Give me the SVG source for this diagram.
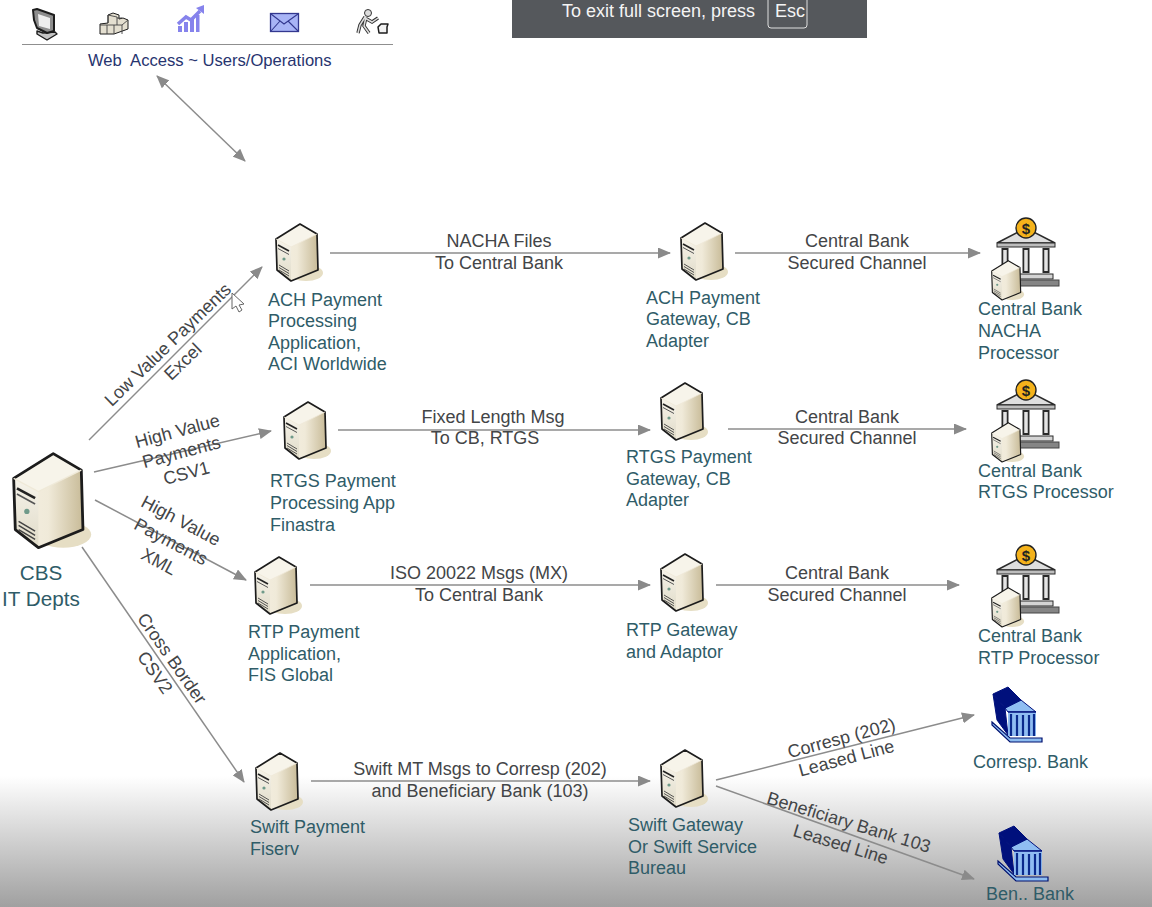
<svg xmlns="http://www.w3.org/2000/svg" width="1152" height="907" viewBox="0 0 1152 907">
<style>
text{font-family:"Liberation Sans",Arial,sans-serif;font-size:18px}
.n{fill:#2f5c68}
.e{fill:#434547;text-anchor:middle}
.c{stroke:#8c8c8c;stroke-width:1.500;fill:none;marker-end:url(#ah)}
.k{stroke:#1c1c1c;stroke-linejoin:round}
</style>
<defs>
<marker id="ah" viewBox="0 0 13 11" refX="12" refY="5.500" markerWidth="13" markerHeight="11" markerUnits="userSpaceOnUse" orient="auto-start-reverse"><path d="M0 0L13 5.500L0 11Z" fill="#8a8a8a"/></marker>
<linearGradient id="bg" x1="0" y1="0" x2="0" y2="1"><stop offset="0" stop-color="#fff"/><stop offset="1" stop-color="#a0a0a0"/></linearGradient>
<linearGradient id="face" x1="0" y1="0" x2="1" y2="0"><stop offset="0" stop-color="#f4efe2"/><stop offset=".5" stop-color="#f0ead9"/><stop offset="1" stop-color="#c8bb98"/></linearGradient>
<linearGradient id="side" x1="0" y1="0" x2="0" y2="1"><stop offset="0" stop-color="#f6f3ea"/><stop offset="1" stop-color="#e0dbc8"/></linearGradient>
<g id="srv">
<ellipse cx="31" cy="50" rx="17" ry="8" fill="#e6dec4"/>
<path d="M25 1L42 11L43 47L16 58L2 47L1 16Z" fill="url(#face)"/>
<path d="M1 16L16 24L16 58L2 47Z" fill="url(#side)"/>
<path d="M25 1L42 11L16 24L1 16Z" fill="#f7f4ea"/>
<path class="k" d="M25 1L42 11L43 47L16 58L2 47L1 16Z" fill="none" stroke-width="1.700"/>
<path d="M1 16L16 24L42 11" fill="none" stroke="#efe9d8" stroke-width=".8"/>
<path d="M3 22L14 28" stroke="#222" stroke-width="1.600" fill="none"/>
<path d="M3 25.500L14 31.500" stroke="#555" stroke-width="1" fill="none"/>
<circle cx="9" cy="36" r="1.600" fill="#6f9a8a"/>
<path d="M4 42L14 48M4 44.500L14 50.500M4 47L14 53" stroke="#444" stroke-width=".9" fill="none"/>
</g>
<g id="cb">
<path d="M1026 228L997 243H1055Z" fill="#dedede" stroke="#2a2a2a" stroke-width="1.500"/>
<circle cx="1026" cy="228" r="10" fill="#f4b21b" stroke="#222" stroke-width="1.400"/>
<text x="1026" y="234" style="font-size:15px;font-weight:bold;text-anchor:middle" fill="#222">$</text>
<rect x="997" y="243" width="58" height="4" fill="#bdbdbd" stroke="#2a2a2a"/>
<path d="M1005 248V273M1026 248V273M1046 248V273" stroke="#2a2a2a" stroke-width="7"/>
<path d="M1005 250V271M1026 250V271M1046 250V271" stroke="#e4e4e4" stroke-width="3.500"/>
<rect x="1002" y="274" width="51" height="5" fill="#d4d4d4" stroke="#2a2a2a"/>
<rect x="1000" y="280" width="59" height="6" fill="#858585" stroke="#444"/>
<use href="#srv" transform="translate(991 260) scale(.69)"/>
</g>
<g id="bb">
<path d="M992 722L1010 738H1042V742H1010L992 725Z" fill="#8cbcf0" stroke="#00106e" stroke-width="1.200"/>
<path d="M993 694L1005 708L1008 735L997 720Z" fill="#00107c" stroke="#00107c"/>
<path d="M1005 708L1021 700L1036 712H1008Z" fill="#8fbdf2" stroke="#00107c"/>
<path d="M993 694L1008 687L1021 700L1005 708Z" fill="#00107c" stroke="#00107c"/>
<path d="M1008 712H1036V736H1008Z" fill="#8fbdf2"/>
<path d="M1008 712H1036" stroke="#00107c" stroke-width="1.500"/>
<path d="M1011 714V736M1017 715V736M1023 715V736M1029 715V736M1034 714V736" stroke="#0a2a8c" stroke-width="2.200"/>
</g>
</defs>
<rect id="bgr" width="1152" height="907" fill="#fff"/>
<rect y="776" width="1152" height="131" fill="url(#bg)"/>
<g id="fullscreen-bar">
<rect x="512" y="-2" width="355" height="40" fill="#55585c"/>
<rect x="768" y="-6" width="39" height="34" rx="3" fill="none" stroke="#dfdfdf"/>
<text x="562" y="16.500" fill="#f4f4f4">To exit full screen, press</text>
<text x="775" y="16.500" fill="#f4f4f4">Esc</text>
</g>
<g id="web-access">
<path class="k" d="M37 31L43 33L55 32L57 34L47 40L37 34Z" fill="#c4c4c4" stroke-width="1.400"/>
<path class="k" d="M33 10L37 9L54 15L54 31L47 33L37 28L34 20Z" fill="#8e8e8e" stroke-width="2"/>
<path d="M38 14L50 18V29L39 26Z" fill="#eeeeee"/>
<path class="k" d="M100 24L108 23V15L113 13L119 15V19L123 18L128 20V29L114 34L100 34Z" fill="#e4dfd0" stroke="#444" stroke-width="1"/>
<path d="M100 25H122V34M107 25V34M114 25V34M108 23V15M108 15L117 17V25M122 25L128 20M117 18L122 18" fill="none" stroke="#444" stroke-width=".9"/>
<path d="M178 32V26H182V32ZM184 32V22H188V32ZM190 32V19H194V32ZM196 32V15H199.500V32Z" fill="#8683ec"/>
<path d="M178 24L186 17L191 20L200 11" fill="none" stroke="#8683ec" stroke-width="3.500"/>
<path d="M196 8L204 5L204 14Z" fill="#8683ec"/>
<rect x="270.500" y="13.500" width="28" height="18" fill="#a8b4f6" stroke="#33388f" stroke-width="1.300"/>
<path d="M271 14L284 24L298 14M271 31L280 21M298 31L288 21" fill="none" stroke="#33388f" stroke-width="1.100"/>
<circle cx="368" cy="13" r="3.500" fill="#ddd" stroke="#333"/>
<path d="M365 17L360 25L358 33M366 17L364 26L369 33M365 18L372 22L378 18" fill="none" stroke="#333" stroke-width="3.400"/>
<path d="M365 17L360 25L358 33M366 17L364 26L369 33M365 18L372 22L378 18" fill="none" stroke="#ddd" stroke-width="1.500"/>
<path class="k" d="M378 27L381 24H388L387 27V33H379Z" fill="#f2f2f2" stroke-width="1.500"/>
<line x1="22" y1="44.500" x2="393" y2="44.500" stroke="#8f8f8f" stroke-width="1.200"/>
<text x="88" y="66" style="font-size:16.600px;white-space:pre" fill="#27346f">Web  Access ~ Users/Operations</text>
</g>
<g id="connectors">
<path class="c" d="M157 76L245 161" marker-start="url(#ah)"/>
<path class="c" d="M89 440L262 267"/>
<path class="c" d="M94 472L271 431"/>
<path class="c" d="M95 500L246 580"/>
<path class="c" d="M82 547L244 782"/>
<path class="c" d="M330 253H670"/>
<path class="c" d="M735 253H980"/>
<path class="c" d="M338 430H650"/>
<path class="c" d="M728 429H966"/>
<path class="c" d="M310 585H650"/>
<path class="c" d="M716 585H959"/>
<path class="c" d="M311 781H650"/>
<path class="c" d="M716 780L974 715"/>
<path class="c" d="M716 786L974 879"/>
</g>
<g id="edge-labels">
<text class="e" x="499" y="247">NACHA Files</text><text class="e" x="499" y="269">To Central Bank</text>
<text class="e" x="857" y="247">Central Bank</text><text class="e" x="857" y="269">Secured Channel</text>
<text class="e" x="493" y="423">Fixed Length Msg</text><text class="e" x="485" y="444">To CB, RTGS</text>
<text class="e" x="847" y="423">Central Bank</text><text class="e" x="847" y="444">Secured Channel</text>
<text class="e" x="479" y="579">ISO 20022 Msgs (MX)</text><text class="e" x="479" y="601">To Central Bank</text>
<text class="e" x="837" y="579">Central Bank</text><text class="e" x="837" y="601">Secured Channel</text>
<text class="e" x="480" y="775">Swift MT Msgs to Corresp (202)</text><text class="e" x="480" y="797">and Beneficiary Bank (103)</text>
<text class="e" transform="translate(172 349) rotate(-44)">Low Value Payments</text>
<text class="e" transform="translate(187 366) rotate(-44)">Excel</text>
<text class="e" transform="translate(179 437) rotate(-15)">High Value</text>
<text class="e" transform="translate(183 458) rotate(-15)">Payments</text>
<text class="e" transform="translate(188 479) rotate(-15)">CSV1</text>
<text class="e" transform="translate(178 526) rotate(28)">High Value</text>
<text class="e" transform="translate(168 547) rotate(28)">Payments</text>
<text class="e" transform="translate(156 567) rotate(28)">XML</text>
<text class="e" transform="translate(167 662) rotate(55)">Cross Border</text>
<text class="e" transform="translate(150 676) rotate(55)">CSV2</text>
<text class="e" transform="translate(843 744) rotate(-15)">Corresp (202)</text>
<text class="e" transform="translate(848 764) rotate(-15)">Leased Line</text>
<text class="e" transform="translate(847 828) rotate(17)">Beneficiary Bank 103</text>
<text class="e" transform="translate(839 850) rotate(17)">Leased Line</text>
</g>
<g id="cbs"><use href="#srv" transform="translate(12 452) scale(1.650)"/><text class="n" style="font-size:20.700px;text-anchor:middle" x="41" y="580">CBS</text><text class="n" style="font-size:20.700px;text-anchor:middle" x="41" y="606">IT Depts</text></g>
<g id="ach-app"><use href="#srv" x="275" y="223"/><text class="n" x="268" y="306">ACH Payment</text><text class="n" x="268" y="327">Processing</text><text class="n" x="268" y="349">Application,</text><text class="n" x="268" y="370">ACI Worldwide</text></g>
<g id="ach-gw"><use href="#srv" x="680" y="222"/><text class="n" x="646" y="304">ACH Payment</text><text class="n" x="646" y="325">Gateway, CB</text><text class="n" x="646" y="347">Adapter</text></g>
<g id="cb-nacha"><use href="#cb"/><text class="n" x="978" y="315">Central Bank</text><text class="n" x="978" y="337">NACHA</text><text class="n" x="978" y="359">Processor</text></g>
<g id="rtgs-app"><use href="#srv" x="283" y="401"/><text class="n" x="270" y="487">RTGS Payment</text><text class="n" x="270" y="509">Processing App</text><text class="n" x="270" y="531">Finastra</text></g>
<g id="rtgs-gw"><use href="#srv" x="660" y="382"/><text class="n" x="626" y="463">RTGS Payment</text><text class="n" x="626" y="485">Gateway, CB</text><text class="n" x="626" y="506">Adapter</text></g>
<g id="cb-rtgs"><use href="#cb" y="162"/><text class="n" x="978" y="477">Central Bank</text><text class="n" x="978" y="498">RTGS Processor</text></g>
<g id="rtp-app"><use href="#srv" x="254" y="556"/><text class="n" x="248" y="638">RTP Payment</text><text class="n" x="248" y="660">Application,</text><text class="n" x="248" y="681">FIS Global</text></g>
<g id="rtp-gw"><use href="#srv" x="660" y="553"/><text class="n" x="626" y="636">RTP Gateway</text><text class="n" x="626" y="658">and Adaptor</text></g>
<g id="cb-rtp"><use href="#cb" y="327"/><text class="n" x="978" y="642">Central Bank</text><text class="n" x="978" y="664">RTP Processor</text></g>
<g id="swift-app"><use href="#srv" x="255" y="752"/><text class="n" x="250" y="833">Swift Payment</text><text class="n" x="250" y="855">Fiserv</text></g>
<g id="swift-gw"><use href="#srv" x="660" y="749"/><text class="n" x="628" y="831">Swift Gateway</text><text class="n" x="628" y="853">Or Swift Service</text><text class="n" x="628" y="874">Bureau</text></g>
<g id="corresp"><use href="#bb"/><text class="n" x="973" y="768">Corresp. Bank</text></g>
<g id="ben"><use href="#bb" x="6" y="139"/><text class="n" x="986" y="900">Ben.. Bank</text></g>
<path id="cursor" d="M232 293V309L236 306L239 312L242 310L239 305L244 304Z" fill="#fff" stroke="#666"/>
</svg>
